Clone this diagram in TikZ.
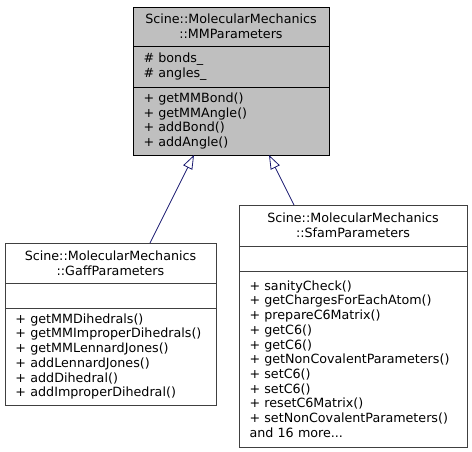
\documentclass[tikz,border=0pt]{standalone}
\usepackage{fontspec}
\setmainfont{DejaVu Sans}
\usetikzlibrary{positioning,arrows.meta}
\definecolor{midnightblue}{HTML}{191970}
\definecolor{nodegray}{HTML}{BFBFBF}
\definecolor{framegray}{HTML}{404040}

\begin{document}
\begin{tikzpicture}[x=1pt, y=1pt,
    part/.style={draw=framegray, fill=white, line width=0.8pt, inner ysep=0pt,
      outer sep=0pt, font=\fontsize{12.7}{14.7}\selectfont},
    head/.style={part, align=center, minimum width=#1},
    body/.style={part, align=left, inner xsep=10.5pt, text width=#1},
    base/.style={draw=black, fill=nodegray},
    inherit/.style={draw=midnightblue, line width=0.8pt,
      {Triangle[open, length=14pt, width=10pt]}-}]
  \useasboundingbox (0, 0) rectangle (472, -451);

  % base class
  \node[head=196pt, base, minimum height=39pt, anchor=north west] (mmtitle) at (133, -7)
    {Scine::MolecularMechanics\\::MMParameters};
  \node[body=175pt, base, minimum height=41pt, below=0pt of mmtitle] (mmattr)
    {\# bonds\_\\\# angles\_};
  \node[body=175pt, base, minimum height=68pt, below=0pt of mmattr] (mmops)
    {+ getMMBond()\\+ getMMAngle()\\+ addBond()\\+ addAngle()};

  % derived classes
  \node[head=211pt, minimum height=40pt, anchor=north west] (gafftitle) at (5, -243)
    {Scine::MolecularMechanics\\::GaffParameters};
  \node[body=190pt, minimum height=25pt, below=0pt of gafftitle] (gaffattr) {};
  \node[body=190pt, minimum height=97pt, below=0pt of gaffattr] (gaffops)
    {+ getMMDihedrals()\\+ getMMImproperDihedrals()\\+ getMMLennardJones()\\%
     + addLennardJones()\\+ addDihedral()\\+ addImproperDihedral()};

  \node[head=228pt, minimum height=41pt, anchor=north west] (sfamtitle) at (239, -205)
    {Scine::MolecularMechanics\\::SfamParameters};
  \node[body=207pt, minimum height=25pt, below=0pt of sfamtitle] (sfamattr) {};
  \node[body=207pt, minimum height=176pt, below=0pt of sfamattr] (sfamops)
    {+ sanityCheck()\\+ getChargesForEachAtom()\\+ prepareC6Matrix()\\+ getC6()\\%
     + getC6()\\+ getNonCovalentParameters()\\+ setC6()\\+ setC6()\\%
     + resetC6Matrix()\\+ setNonCovalentParameters()\\and 16 more...};

  % inheritance
  \draw[inherit] ([xshift=-37pt]mmops.south) -- ([xshift=39.5pt]gafftitle.north);
  \draw[inherit] ([xshift=38pt]mmops.south) -- ([xshift=-59pt]sfamtitle.north);
\end{tikzpicture}
\end{document}
